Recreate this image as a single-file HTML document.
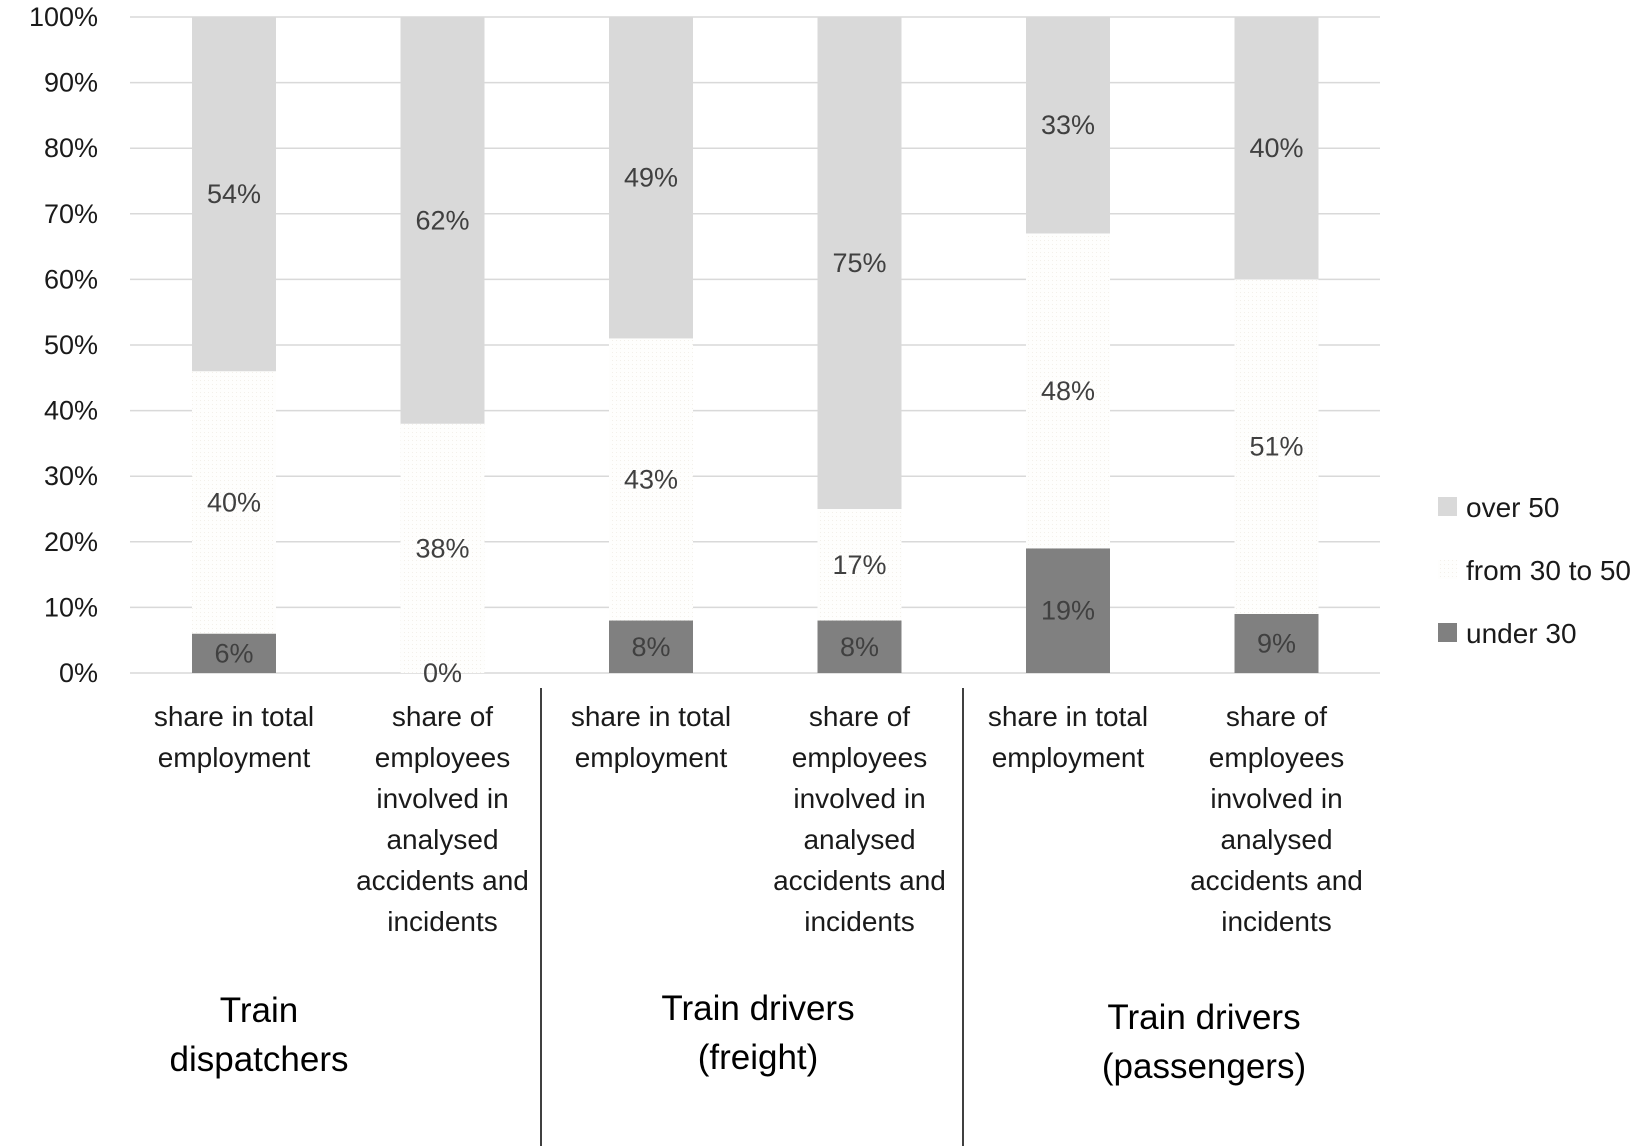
<!DOCTYPE html>
<html><head><meta charset="utf-8"><style>
body{margin:0;background:#fff;}
svg{display:block;font-family:"Liberation Sans",sans-serif;}
</style></head><body>
<svg id="chart" width="1650" height="1146" viewBox="0 0 1650 1146">
<defs><pattern id="dots" width="4" height="4" patternUnits="userSpaceOnUse"><rect width="4" height="4" fill="#fefefd"/><rect width="1" height="1" fill="#f3f0ea"/></pattern></defs>
<g id="grid"></g><g id="bars"></g><g id="labels"></g>
</svg>
<script>
const ticks=[0,10,20,30,40,50,60,70,80,90,100];
const categories=[["share in total","employment"],["share of","employees","involved in","analysed","accidents and","incidents"],["share in total","employment"],["share of","employees","involved in","analysed","accidents and","incidents"],["share in total","employment"],["share of","employees","involved in","analysed","accidents and","incidents"]];
const under30=[6,0,8,8,19,9];
const from30to50=[40,38,43,17,48,51];
const over50=[54,62,49,75,33,40];
const groups=[["Train","dispatchers"],["Train drivers","(freight)"],["Train drivers","(passengers)"]];
const NS="http://www.w3.org/2000/svg";
const y0=673,y1=17,x0=130,x1=1380;
const yS=v=>y0-(y0-y1)*v/100;
const step=208.5, bw=84;
const xC=i=>234+i*step;
function mk(tag,attrs,parent,text){const e=document.createElementNS(NS,tag);for(const k in attrs)e.setAttribute(k,attrs[k]);if(text!==undefined)e.textContent=text;parent.appendChild(e);return e;}
const grid=document.getElementById('grid'),bars=document.getElementById('bars'),labels=document.getElementById('labels');
ticks.forEach(t=>{
 const l=mk('line',{x1:x0,x2:x1,y1:yS(t),y2:yS(t),stroke:'#d9d9d9','stroke-width':1.5},grid);
 
 
 const tx=mk('text',{x:98,y:yS(t)+9,'text-anchor':'end','font-size':27,fill:'#1a1a1a'},grid,t+'%');
 
 
});
const series=[[under30,'#808080','under-30'],[from30to50,'url(#dots)','from-30-to-50'],[over50,'#d9d9d9','over-50']];
categories.forEach((c,i)=>{
 let base=0;
 series.forEach(([arr,fill,nm])=>{
  const v=arr[i];
  const r=mk('rect',{x:xC(i)-bw/2,y:yS(base+v),width:bw,height:yS(base)-yS(base+v),fill:fill},bars);
  
  
  const t=mk('text',{x:xC(i),y:yS(base+v/2)+9,'text-anchor':'middle','font-size':27,fill:'#404040'},labels,v+'%');
  
  
  base+=v;
 });
 c.forEach((ln,j)=>{
  const t=mk('text',{x:xC(i),y:726+j*41,'text-anchor':'middle','font-size':28,fill:'#1a1a1a'},labels,ln);
  
  
 });
});
[541,963].forEach(x=>{
 const l=mk('line',{x1:x,x2:x,y1:688,y2:1146,stroke:'#000','stroke-width':1.5},grid);
 
 
});
const gx=[259,758,1204],gy=[1022,1020,1029];
groups.forEach((g,i)=>g.forEach((ln,j)=>{
 const t=mk('text',{x:gx[i],y:gy[i]+j*49,'text-anchor':'middle','font-size':35,fill:'#000'},labels,ln);
 
 
}));
const leg=[['over 50','#d9d9d9'],['from 30 to 50','url(#dots)'],['under 30','#808080']];
leg.forEach(([n,f],i)=>{
 const y=507+i*63;
 const r=mk('rect',{x:1438,y:y-10,width:19,height:19,fill:f},labels);
 
 
 const t=mk('text',{x:1466,y:y+10,'font-size':28,fill:'#1a1a1a'},labels,n);
 
 
});
</script>
</body></html>
